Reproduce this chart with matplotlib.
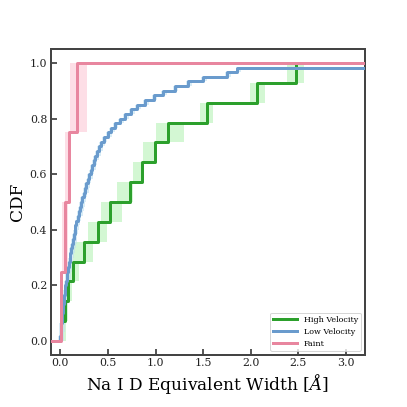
import numpy as np
import matplotlib
matplotlib.use("Agg")
import matplotlib.pyplot as plt

plt.rcParams['font.family'] = ['DejaVu Serif']
plt.rcParams['mathtext.fontset'] = 'dejavuserif'

# ---- data (Na I D equivalent widths, Angstrom) ----
high_ew = [0.040, 0.045, 0.085, 0.13, 0.248, 0.397, 0.52, 0.73, 0.86, 0.99, 1.13, 1.54, 2.07, 2.48]
high_lo = [0.020, 0.030, 0.060, 0.08, 0.13, 0.29, 0.43, 0.60, 0.76, 0.87, 1.00, 1.47, 1.99, 2.38]
high_hi = [0.060, 0.080, 0.120, 0.20, 0.34, 0.49, 0.65, 0.76, 0.88, 1.02, 1.30, 1.60, 2.15, 2.56]

low_ew = [0.000, 0.004, 0.008, 0.012, 0.016, 0.020, 0.025, 0.031, 0.037, 0.043,
          0.049, 0.055, 0.061, 0.068, 0.075, 0.083, 0.091, 0.099, 0.107, 0.114,
          0.122, 0.131, 0.140, 0.150, 0.160, 0.170, 0.182, 0.194, 0.206, 0.219,
          0.232, 0.245, 0.258, 0.272, 0.287, 0.302, 0.318, 0.334, 0.350, 0.368,
          0.386, 0.405, 0.425, 0.455, 0.50, 0.53, 0.57, 0.63, 0.68, 0.74,
          0.81, 0.89, 0.98, 1.08, 1.20, 1.34, 1.50, 1.75, 1.86, 4.50]
low_band_minus = 0.02
low_band_plus = 0.04

faint_ew = [0.007, 0.05, 0.087, 0.175]
faint_lo = [-0.005, 0.02, 0.055, 0.10]
faint_hi = [0.030, 0.085, 0.11, 0.28]

labels = ["High Velocity", "Low Velocity", "Faint"]
c_high, c_low, c_faint = '#2ca02c', '#6a9bcd', '#e8869f'
band_high, band_low, band_faint = '#b6f2b6', '#bfe0f0', '#fcc8d6'

fig = plt.figure(figsize=(407 / 72, 407 / 72), dpi=72)
ax = fig.add_axes([0.1246, 0.1278, 0.897 - 0.1246, 0.8796 - 0.1278])

def cdf(vals):
    v = np.asarray(vals, float)
    return v, np.arange(1, len(v) + 1) / len(v)

# High velocity
x, y = cdf(high_ew)
yb = np.concatenate([[0], y])
ax.fill_betweenx(yb, np.concatenate([[high_lo[0]], high_lo]),
                 np.concatenate([[high_hi[0]], high_hi]),
                 step='pre', color=band_high, alpha=0.6, lw=0)
ax.step(x, y, where='post', color=c_high, lw=3, label=labels[0], zorder=3)

# Low velocity
x, y = cdf(low_ew)
xl = np.asarray(low_ew) - low_band_minus
xh = np.asarray(low_ew) + low_band_plus
yb = np.concatenate([[0], y])
ax.fill_betweenx(yb, np.concatenate([[xl[0]], xl]),
                 np.concatenate([[xh[0]], xh]), step='pre',
                 color=band_low, alpha=0.6, lw=0)
ax.step(np.concatenate([[-1], x]), np.concatenate([[0], y]), where='post',
        color=c_low, lw=3, label=labels[1], zorder=3)

# Faint
x, y = cdf(faint_ew)
yb = np.concatenate([[0], y])
ax.fill_betweenx(yb, np.concatenate([[faint_lo[0]], faint_lo]),
                 np.concatenate([[faint_hi[0]], faint_hi]),
                 step='pre', color=band_faint, alpha=0.6, lw=0)
ax.step(np.concatenate([[-1], x, [10]]), np.concatenate([[0], y, [1.0]]), where='post',
        color=c_faint, lw=3, label=labels[2], zorder=3)

ax.set_xlim(-0.1, 3.2)
ax.set_ylim(-0.05, 1.05)
ax.set_xticks([0, 0.5, 1.0, 1.5, 2.0, 2.5, 3.0])
ax.set_yticks([0, 0.2, 0.4, 0.6, 0.8, 1.0])
ax.tick_params(direction='in', length=6, width=1.5, labelsize=11, colors='#222222')
for s in ax.spines.values():
    s.set_linewidth(2)
    s.set_color('#444444')

ax.set_xlabel(r'Na I D Equivalent Width [$\AA$]', fontsize=17)
ax.set_ylabel('CDF', fontsize=17)
ax.legend(loc='lower right', fontsize=8, handlelength=3)

fig.savefig('out.png', dpi=72)
